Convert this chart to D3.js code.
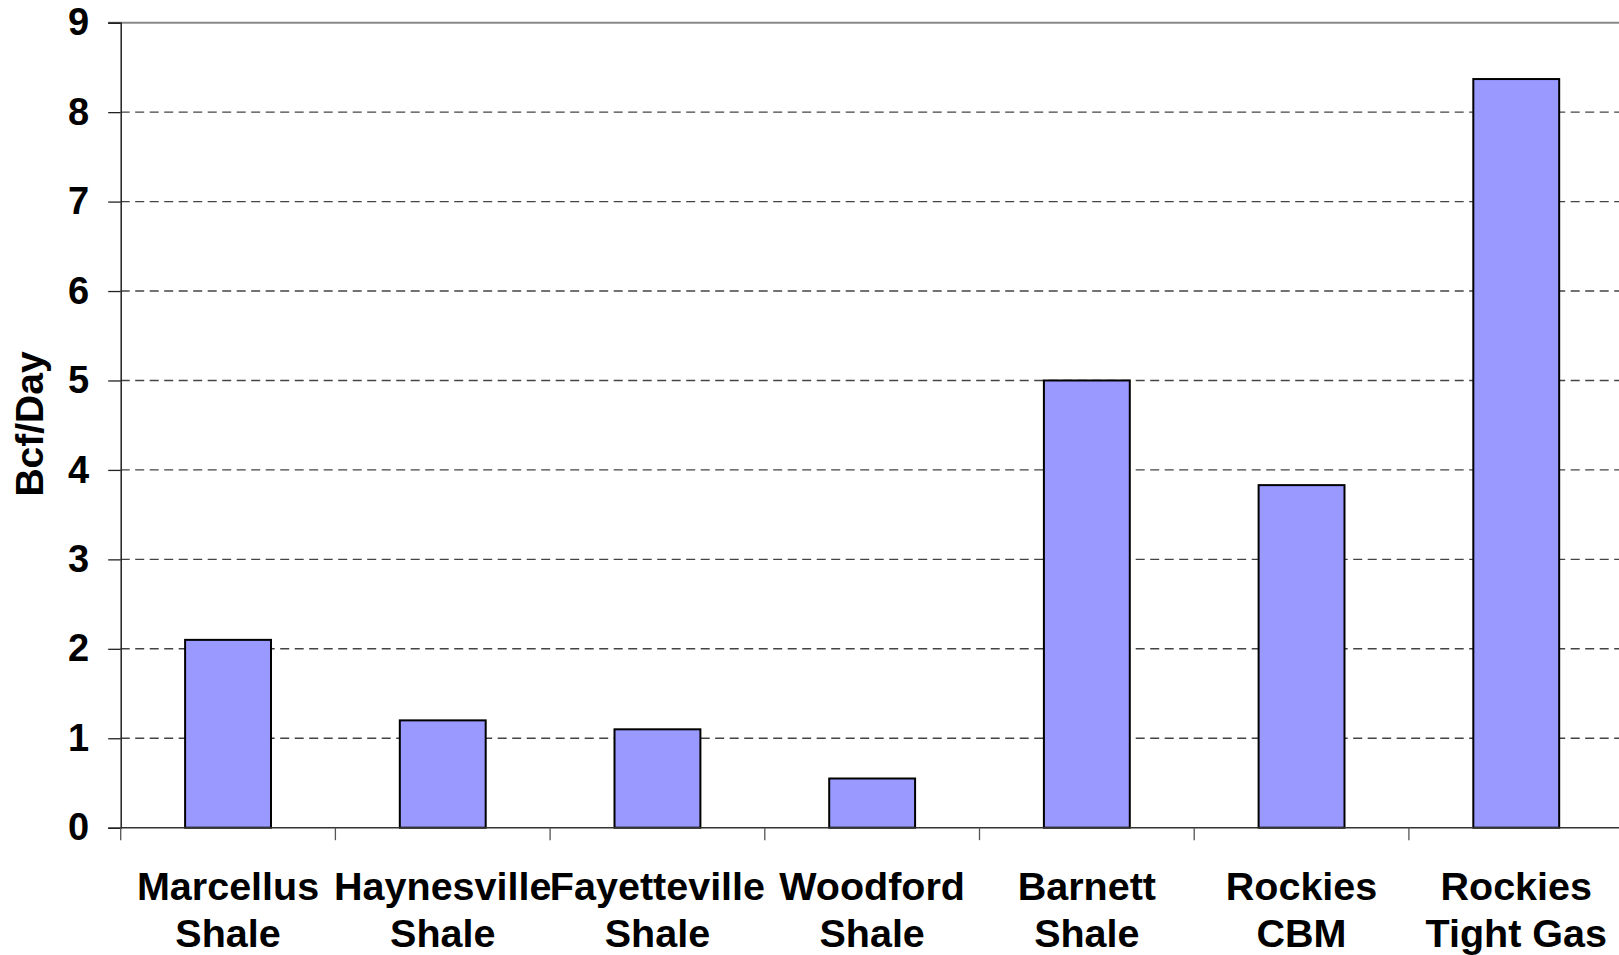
<!DOCTYPE html>
<html>
<head>
<meta charset="utf-8">
<script src="https://cdn.jsdelivr.net/npm/d3@7"></script>
<style>
html,body{margin:0;padding:0;background:#fff;overflow:hidden;}
text{font-family:"Liberation Sans",Arial,sans-serif;font-weight:bold;fill:#000;}
</style>
</head>
<body>
<svg id="chart" width="1619" height="955"></svg>
<script>
const categories = [["Marcellus","Shale"],["Haynesville","Shale"],["Fayetteville","Shale"],["Woodford","Shale"],["Barnett","Shale"],["Rockies","CBM"],["Rockies","Tight Gas"]];
const values = [2.1, 1.2, 1.1, 0.55, 5.0, 3.83, 8.37];
const yTicks = [0,1,2,3,4,5,6,7,8,9];
const yLabel = "Bcf/Day";

(function(){
const svg = d3.select("#chart");
const plotLeft = 120.7, plotTop = 22.7, plotBottom = 827.7, step = 214.7;
const keys = categories.map(c => c.join(" "));

const x = d3.scaleBand().domain(keys).range([plotLeft, plotLeft + step*keys.length]).paddingInner(0.6).paddingOuter(0.3);
const y = d3.scaleLinear().domain([0, 9]).range([plotBottom, plotTop]);

// gridlines
svg.append("g").selectAll("line").data(yTicks.filter(t => t > 0 && t < 9)).join("line")
  .attr("x1", plotLeft).attr("x2", 1619)
  .attr("y1", d => y(d)).attr("y2", d => y(d))
  .attr("stroke", "#444").attr("stroke-width", 1.4).attr("stroke-dasharray", "9,5.5");

// top border
svg.append("line").attr("x1", plotLeft - 12.5).attr("x2", 1619).attr("y1", y(9)).attr("y2", y(9))
  .attr("stroke", "#888").attr("stroke-width", 2);

// bars
svg.append("g").selectAll("rect").data(values).join("rect")
  .attr("x", (d,i) => x(keys[i]))
  .attr("width", x.bandwidth())
  .attr("y", d => y(d))
  .attr("height", d => plotBottom - y(d))
  .attr("fill", "#9999FF").attr("stroke", "#000").attr("stroke-width", 2);

// y axis
const yAxis = svg.append("g").attr("transform", `translate(${plotLeft},0)`)
  .call(d3.axisLeft(y).tickValues(yTicks).tickSize(12.5).tickPadding(19).tickFormat(d3.format("d")));
yAxis.select(".domain").attr("stroke", "#222").attr("stroke-width", 1.5);
yAxis.selectAll(".tick line").attr("stroke", "#222").attr("stroke-width", 1.3);
yAxis.selectAll(".tick text").attr("font-size", 38).attr("font-family", "Liberation Sans, Arial, sans-serif").attr("font-weight", "bold").attr("fill", "#000");

// x axis
const boundaries = d3.range(keys.length + 1).map(i => plotLeft + i*x.step());
svg.append("line").attr("x1", plotLeft).attr("x2", 1619).attr("y1", plotBottom).attr("y2", plotBottom)
  .attr("stroke", "#333").attr("stroke-width", 1.5);
svg.append("g").selectAll("line").data(boundaries).join("line")
  .attr("x1", d => d).attr("x2", d => d).attr("y1", plotBottom).attr("y2", plotBottom + 12.5)
  .attr("stroke", "#555").attr("stroke-width", 1.3);

// category labels
const lab = svg.append("g").selectAll("text").data(categories).join("text")
  .attr("text-anchor", "middle").attr("font-size", 39.5);
lab.each(function(d,i){
  const t = d3.select(this);
  d.forEach((line, j) => {
    t.append("tspan").attr("x", x(keys[i]) + x.bandwidth()/2).attr("y", 900 + j*46.7).text(line);
  });
});

// y label
svg.append("text").attr("transform", "translate(43,424) rotate(-90)")
  .attr("text-anchor", "middle").attr("font-size", 39).text(yLabel);
})();
</script>
</body>
</html>
